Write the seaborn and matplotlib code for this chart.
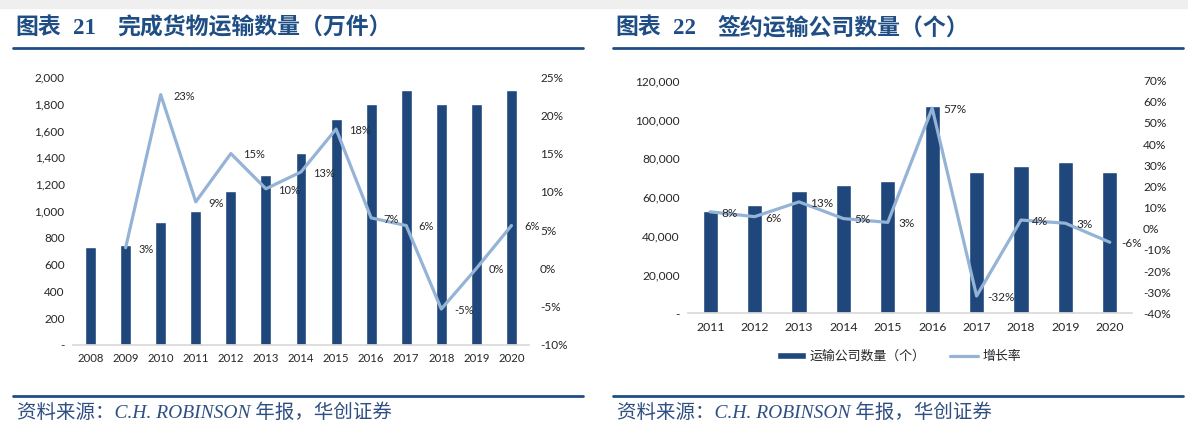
import matplotlib
matplotlib.use("Agg")
import matplotlib.pyplot as plt
import seaborn as sns
import numpy as np
import pandas as pd
from matplotlib.ticker import FuncFormatter, MultipleLocator
from matplotlib.lines import Line2D
from matplotlib.patches import Rectangle

# ---------------- data ----------------
years_left = ["2008", "2009", "2010", "2011", "2012", "2013", "2014",
              "2015", "2016", "2017", "2018", "2019", "2020"]
shipments = [730, 750, 920, 1000, 1150, 1270, 1430, 1690, 1800, 1900, 1800, 1800, 1900]
growth_years_left = ["2009", "2010", "2011", "2012", "2013", "2014",
                     "2015", "2016", "2017", "2018", "2019", "2020"]
growth_left = [2.7, 22.7, 8.7, 15.0, 10.4, 12.6, 18.2, 6.6, 5.6, -5.3, 0.0, 5.6]

years_right = ["2011", "2012", "2013", "2014", "2015", "2016", "2017", "2018", "2019", "2020"]
carriers = [53000, 56000, 63000, 66000, 68000, 107000, 73000, 76000, 78000, 73000]
growth_right = [8.0, 5.7, 12.7, 4.8, 3.0, 57.0, -31.8, 4.1, 2.6, -6.4]

title_tag = "图表"
title_left_no = "21"
title_right_no = "22"
title_left = "完成货物运输数量（万件）"
title_right = "签约运输公司数量（个）"
source_text = "资料来源：C.H. ROBINSON 年报，华创证券"
legend_bar = "运输公司数量（个）"
legend_line = "增长率"

# ---------------- style ----------------
sns.set_theme(style="white")
plt.rcParams['font.family'] = ['Lato', 'Noto Sans CJK SC', 'DejaVu Sans']

BAR = "#1F477B"
LINE = "#95B3D7"
NAVY = "#1F4E85"
TXT = "#262626"

fig = plt.figure(figsize=(11.88, 4.42), dpi=100)
W, H = 1188, 442

def px_axes(x0, y0, x1, y1):
    return fig.add_axes([x0 / W, 1 - y1 / H, (x1 - x0) / W, (y1 - y0) / H])

# gray top strip
fig.add_artist(Rectangle((0, 1 - 8 / H), 1, 8 / H, transform=fig.transFigure,
                         color="#efefef", zorder=0))

def thou(v, pos):
    return "-" if abs(v) < 1e-9 else f"{v:,.0f}"

def pct(v, pos):
    return f"{v:.0f}%"

def style_axes(ax, ax2, fs, fsx):
    for s in ["top", "right", "left"]:
        ax.spines[s].set_visible(False)
        ax2.spines[s].set_visible(False)
    ax2.spines["bottom"].set_visible(False)
    ax.spines["bottom"].set_color("#d9d9d9")
    ax.tick_params(axis="y", length=0, labelsize=fs, colors=TXT, pad=6)
    ax.tick_params(axis="x", length=0, labelsize=fsx, colors=TXT, pad=6)
    ax2.tick_params(axis="both", length=0, labelsize=fs, colors=TXT, pad=8)
    ax.set_xlabel("")
    ax.set_ylabel("")
    ax2.set_xlabel("")
    ax2.set_ylabel("")
    ax.grid(False)
    ax2.grid(False)
    ax.patch.set_alpha(0)

# ---------------- left chart ----------------
axL = px_axes(73, 77, 529, 345)
sns.barplot(x=years_left, y=shipments, color=BAR, saturation=1, width=0.31,
            ax=axL, zorder=2)
axL.set_ylim(0, 2000)
axL.yaxis.set_major_locator(MultipleLocator(200))
axL.yaxis.set_major_formatter(FuncFormatter(thou))
axL.set_xlim(-0.5, len(years_left) - 0.5)

axL2 = axL.twinx()
posL = [years_left.index(y) for y in growth_years_left]
sns.lineplot(x=posL, y=growth_left, color=LINE, linewidth=2.3, ax=axL2, zorder=3)
axL2.set_ylim(-10, 25)
axL2.yaxis.set_major_locator(MultipleLocator(5))
axL2.yaxis.set_major_formatter(FuncFormatter(pct))
for x, v in zip(posL, growth_left):
    axL2.annotate(f"{round(v):.0f}%", (x, v), xytext=(9, -1), textcoords="offset points",
                  ha="left", va="center", fontsize=8, color=TXT)
style_axes(axL, axL2, 8.5, 8.2)

# ---------------- right chart ----------------
axR = px_axes(688, 80.7, 1132, 313.3)
sns.barplot(x=years_right, y=carriers, color=BAR, saturation=1, width=0.34,
            ax=axR, zorder=2, label=legend_bar)
axR.set_ylim(0, 120000)
axR.yaxis.set_major_locator(MultipleLocator(20000))
axR.yaxis.set_major_formatter(FuncFormatter(thou))
axR.set_xlim(-0.5, len(years_right) - 0.5)

axR2 = axR.twinx()
posR = list(range(len(years_right)))
sns.lineplot(x=posR, y=growth_right, color=LINE, linewidth=2.3, ax=axR2, zorder=3,
             label=legend_line)
axR2.set_ylim(-40, 70)
axR2.yaxis.set_major_locator(MultipleLocator(10))
axR2.yaxis.set_major_formatter(FuncFormatter(pct))
for x, v in zip(posR, growth_right):
    axR2.annotate(f"{round(v):.0f}%", (x, v), xytext=(8, -1), textcoords="offset points",
                  ha="left", va="center", fontsize=8.5, color=TXT)
style_axes(axR, axR2, 8.6, 8.8)

h1, l1 = axR.get_legend_handles_labels()
h2, l2 = axR2.get_legend_handles_labels()
for a in (axR, axR2):
    if a.get_legend() is not None:
        a.get_legend().remove()
fig.legend(h1 + h2, l1 + l2, loc="center", bbox_to_anchor=(899 / W, 1 - 356 / H),
           ncol=2, frameon=False, prop={"size": 9.3}, handlelength=2.2, handleheight=0.5,
           columnspacing=1.9, handletextpad=0.3, labelcolor=TXT)

# ---------------- titles, rules, sources ----------------
for x0, x1, no, title in [(13, 583, title_left_no, title_left),
                          (613, 1183, title_right_no, title_right)]:
    fam = ['Liberation Serif', 'Noto Sans CJK SC']
    fig.text((x0 + 2) / W, 1 - 28.5 / H, title_tag, fontsize=16.5, fontweight="bold",
             color=NAVY, va="center", ha="left", family=fam)
    fig.text((x0 + 60) / W, 1 - 28.5 / H, no, fontsize=16.5, fontweight="bold",
             color=NAVY, va="center", ha="left", family=fam)
    fig.text((x0 + 104) / W, 1 - 28.5 / H, title, fontsize=16.5, fontweight="bold",
             color=NAVY, va="center", ha="left", family=fam)
    fig.add_artist(Line2D([x0 / W, x1 / W], [1 - 47.5 / H, 1 - 47.5 / H],
                          transform=fig.transFigure, color=NAVY, linewidth=2))
    fig.add_artist(Line2D([x0 / W, x1 / W], [1 - 396 / H, 1 - 396 / H],
                          transform=fig.transFigure, color=NAVY, linewidth=2))
    fig.text((x0 + 4) / W, 1 - 413 / H, source_text, fontsize=14, style="italic",
             color="#2F4F82", va="center", ha="left", family=fam)

fig.savefig("out.png", dpi=100, facecolor="white")
